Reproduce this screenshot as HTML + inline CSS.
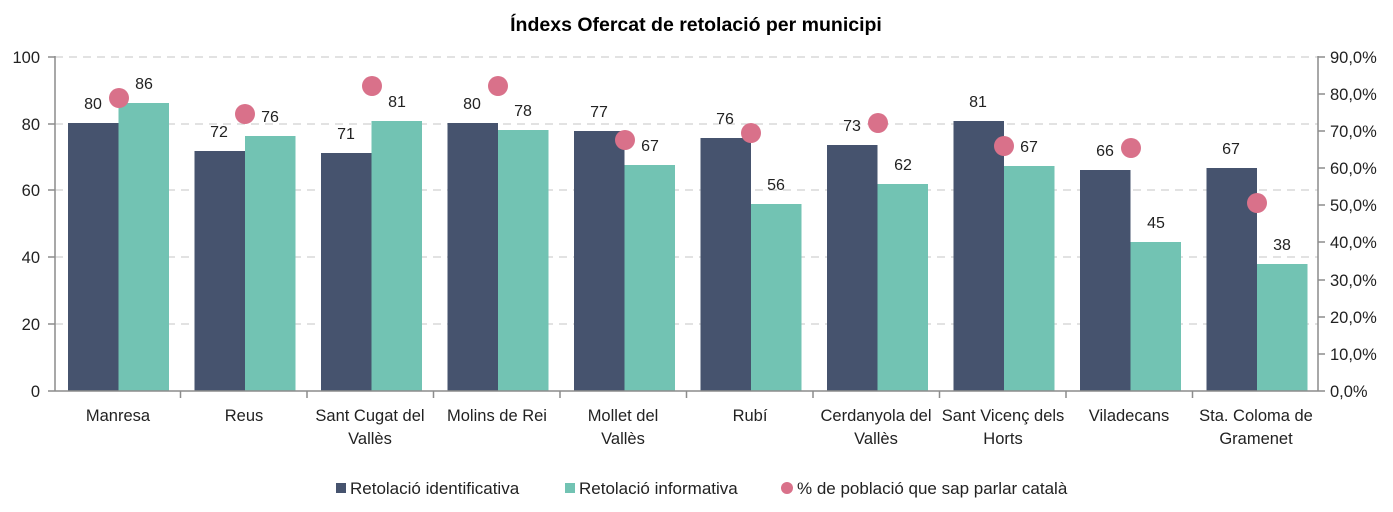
<!DOCTYPE html>
<html><head><meta charset="utf-8"><style>
html,body{margin:0;padding:0;background:#fff;}
svg{display:block;font-family:"Liberation Sans",sans-serif;}
</style></head><body>
<svg width="1393" height="512" viewBox="0 0 1393 512">
<text x="696" y="31" text-anchor="middle" font-size="19.5" font-weight="bold" fill="#000">Índexs Ofercat de retolació per municipi</text>
<g stroke="#d9d9d9" stroke-width="1.5" stroke-dasharray="8,6">
<line x1="55" x2="1318" y1="57" y2="57"/><line x1="55" x2="1318" y1="124" y2="124"/><line x1="55" x2="1318" y1="190" y2="190"/><line x1="55" x2="1318" y1="257" y2="257"/><line x1="55" x2="1318" y1="324" y2="324"/>
</g>
<g fill="#46536e">
<rect x="68" y="123" width="50.5" height="268"/><rect x="194.5" y="151" width="50.5" height="240"/><rect x="321" y="153" width="50.5" height="238"/><rect x="447.5" y="123" width="50.5" height="268"/><rect x="574" y="131" width="50.5" height="260"/><rect x="700.5" y="138" width="50.5" height="253"/><rect x="827" y="145" width="50.5" height="246"/><rect x="953.5" y="121" width="50.5" height="270"/><rect x="1080" y="170" width="50.5" height="221"/><rect x="1206.5" y="168" width="50.5" height="223"/>
</g>
<g fill="#72c3b3">
<rect x="118.5" y="103" width="50.5" height="288"/><rect x="245" y="136" width="50.5" height="255"/><rect x="371.5" y="121" width="50.5" height="270"/><rect x="498" y="130" width="50.5" height="261"/><rect x="624.5" y="165" width="50.5" height="226"/><rect x="751" y="204" width="50.5" height="187"/><rect x="877.5" y="184" width="50.5" height="207"/><rect x="1004" y="166" width="50.5" height="225"/><rect x="1130.5" y="242" width="50.5" height="149"/><rect x="1257" y="264" width="50.5" height="127"/>
</g>
<g fill="#d9718a">
<circle cx="119" cy="98" r="10"/><circle cx="245" cy="114" r="10"/><circle cx="372" cy="86" r="10"/><circle cx="498" cy="86" r="10"/><circle cx="625" cy="140" r="10"/><circle cx="751" cy="133" r="10"/><circle cx="878" cy="123" r="10"/><circle cx="1004" cy="146" r="10"/><circle cx="1131" cy="148" r="10"/><circle cx="1257" cy="203" r="10"/>
</g>
<g font-size="16" fill="#222" text-anchor="middle">
<text x="93" y="109">80</text><text x="219" y="137">72</text><text x="346" y="139">71</text><text x="472" y="109">80</text><text x="599" y="117">77</text><text x="725" y="124">76</text><text x="852" y="131">73</text><text x="978" y="107">81</text><text x="1105" y="156">66</text><text x="1231" y="154">67</text>
<text x="144" y="89">86</text><text x="270" y="122">76</text><text x="397" y="107">81</text><text x="523" y="116">78</text><text x="650" y="151">67</text><text x="776" y="190">56</text><text x="903" y="170">62</text><text x="1029" y="152">67</text><text x="1156" y="228">45</text><text x="1282" y="250">38</text>
</g>
<g stroke="#8c8c8c" stroke-width="1.5">
<line x1="55" y1="56" x2="55" y2="391"/><line x1="1318" y1="56" x2="1318" y2="391"/><line x1="48" y1="391" x2="1325" y2="391"/>
<line x1="48" y1="57" x2="55" y2="57"/><line x1="48" y1="124" x2="55" y2="124"/><line x1="48" y1="190" x2="55" y2="190"/><line x1="48" y1="257" x2="55" y2="257"/><line x1="48" y1="324" x2="55" y2="324"/>
<line x1="1318" x2="1325" y1="57" y2="57"/><line x1="1318" x2="1325" y1="94" y2="94"/><line x1="1318" x2="1325" y1="131" y2="131"/><line x1="1318" x2="1325" y1="168" y2="168"/><line x1="1318" x2="1325" y1="205" y2="205"/><line x1="1318" x2="1325" y1="242" y2="242"/><line x1="1318" x2="1325" y1="280" y2="280"/><line x1="1318" x2="1325" y1="317" y2="317"/><line x1="1318" x2="1325" y1="354" y2="354"/>
<line x1="180.5" x2="180.5" y1="391" y2="398"/><line x1="307" x2="307" y1="391" y2="398"/><line x1="433.5" x2="433.5" y1="391" y2="398"/><line x1="560" x2="560" y1="391" y2="398"/><line x1="686.5" x2="686.5" y1="391" y2="398"/><line x1="813" x2="813" y1="391" y2="398"/><line x1="939.5" x2="939.5" y1="391" y2="398"/><line x1="1066" x2="1066" y1="391" y2="398"/><line x1="1192.5" x2="1192.5" y1="391" y2="398"/>
</g>
<g font-size="16.5" fill="#222" text-anchor="end">
<text x="40" y="63">100</text><text x="40" y="130">80</text><text x="40" y="196">60</text><text x="40" y="263">40</text><text x="40" y="330">20</text><text x="40" y="397">0</text>
</g>
<g font-size="16.5" fill="#222" text-anchor="start">
<text x="1330" y="63">90,0%</text><text x="1330" y="100">80,0%</text><text x="1330" y="137">70,0%</text><text x="1330" y="174">60,0%</text><text x="1330" y="211">50,0%</text><text x="1330" y="248">40,0%</text><text x="1330" y="286">30,0%</text><text x="1330" y="323">20,0%</text><text x="1330" y="360">10,0%</text><text x="1330" y="397">0,0%</text>
</g>
<g font-size="16.5" fill="#222" text-anchor="middle">
<text x="118" y="421">Manresa</text>
<text x="244" y="421">Reus</text>
<text x="370" y="421">Sant Cugat del</text><text x="370" y="444">Vallès</text>
<text x="497" y="421">Molins de Rei</text>
<text x="623" y="421">Mollet del</text><text x="623" y="444">Vallès</text>
<text x="750" y="421">Rubí</text>
<text x="876" y="421">Cerdanyola del</text><text x="876" y="444">Vallès</text>
<text x="1003" y="421">Sant Vicenç dels</text><text x="1003" y="444">Horts</text>
<text x="1129" y="421">Viladecans</text>
<text x="1256" y="421">Sta. Coloma de</text><text x="1256" y="444">Gramenet</text>
</g>
<g font-size="17" fill="#222">
<rect x="336" y="483" width="10" height="10" fill="#46536e"/><text x="350" y="494">Retolació identificativa</text>
<rect x="565" y="483" width="10" height="10" fill="#72c3b3"/><text x="579" y="494">Retolació informativa</text>
<circle cx="787" cy="488" r="6" fill="#d9718a"/><text x="797" y="494">% de població que sap parlar català</text>
</g>
</svg>
</body></html>
